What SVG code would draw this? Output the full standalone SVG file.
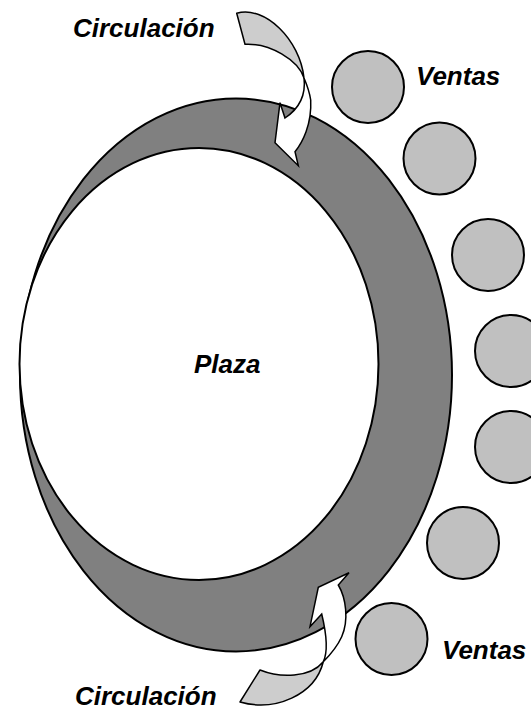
<svg xmlns="http://www.w3.org/2000/svg" width="531" height="713" viewBox="0 0 531 713">
<style>
.lbl{font-family:"Liberation Sans",Arial,sans-serif;font-weight:bold;font-style:italic;font-size:26px;fill:#000}
.venta{fill:#c0c0c0;stroke:#000;stroke-width:2}
.back{fill:#cdcdcd;stroke:#000;stroke-width:1.5;stroke-linejoin:round}
.front{fill:#fff;stroke:#000;stroke-width:1.5;stroke-linejoin:miter}
</style>
<rect width="531" height="713" fill="#fff"/>
<g id="circulacion-anillo">
<ellipse cx="236" cy="375" rx="216" ry="276.5" fill="#808080" stroke="#000" stroke-width="2"/>
</g>
<g id="plaza">
<ellipse cx="199" cy="364" rx="179.5" ry="216" fill="#fff" stroke="#000" stroke-width="2"/>
<text class="lbl" x="194" y="373">Plaza</text>
</g>
<g id="ventas">
<circle class="venta" cx="368" cy="87" r="36"/>
<circle class="venta" cx="439.5" cy="158.5" r="36"/>
<circle class="venta" cx="488" cy="255" r="36"/>
<circle class="venta" cx="511" cy="351" r="36"/>
<circle class="venta" cx="511" cy="447" r="36"/>
<circle class="venta" cx="463" cy="543" r="36"/>
<circle class="venta" cx="391.5" cy="639" r="36"/>
<text class="lbl" x="416" y="85">Ventas</text>
<text class="lbl" x="442" y="659">Ventas</text>
</g>
<g id="connectors">
<g id="flecha-superior">
<path class="back" d="M236.7,13.3 C265,5 300,40 304,78 C298,60 270,43 245,44.3 Z"/>
<path class="front" d="M304,78 C306,95 300,108 285,118 L280,102.7 L275,142.7 L298.3,165.7 L295,151.7 C302,143 312,125 310.7,100 C309.5,92 307,85 304,78 Z"/>
</g>
<g id="flecha-inferior">
<path class="back" d="M260,670 C280,678 310,678 323.3,661.7 C315,695 275,712 240,702 Z"/>
<path class="front" d="M323.3,661.7 C328,652 327,636 321.7,614 L310,626.7 L318.3,587.3 L349,572.7 L338.3,585 C346,598 349,620 341.7,636.7 C337,647 330,655 323.3,661.7 Z"/>
</g>
</g>
<g id="etiquetas-circulacion">
<text class="lbl" x="73" y="37">Circulación</text>
<text class="lbl" x="75" y="705">Circulación</text>
</g>
</svg>
